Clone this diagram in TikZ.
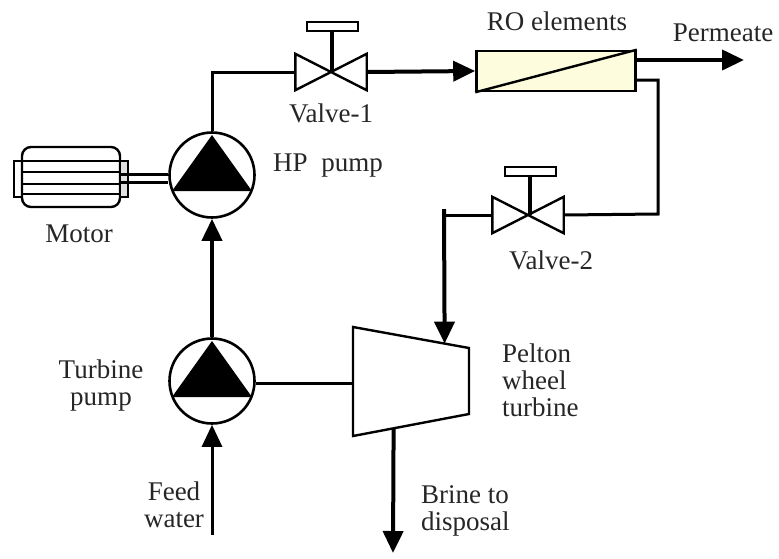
\documentclass[tikz,border=0pt]{standalone}
\usepackage{fontspec}
\setmainfont{Liberation Serif}
\usetikzlibrary{positioning,arrows.meta,calc}
\definecolor{membrane}{RGB}{253,253,222}

\begin{document}
\begin{tikzpicture}[
  x=1pt, y=-1pt,
  >={Triangle[length=22pt,width=20pt]},
  font=\fontsize{27}{27}\selectfont,
  pump/.style  ={circle, draw=black, line width=2.6pt, minimum size=85pt, inner sep=0pt},
  vlv/.style   ={rectangle, minimum width=71pt, minimum height=36pt, inner sep=0pt},
  wheel/.style ={rectangle, draw=black, line width=2pt, fill=white, minimum width=51pt, minimum height=9pt, inner sep=0pt},
  ro/.style    ={rectangle, draw=black, line width=2.6pt, fill=membrane, minimum width=159pt, minimum height=40pt, inner sep=0pt},
  lbl/.style   ={text=black!85, inner sep=0pt},
  pipe/.style  ={black, line width=3pt},
  fat/.style   ={black, line width=4pt},
  body/.style  ={black, line width=2.4pt}
]
\useasboundingbox (0,0) rectangle (779,558);

% ---- Pumps ------------------------------------------------------------------
\node[pump] (hp) at (212,175) {};
\node[pump] (tp) at (212,381) {};
\fill (212,135) -- (172,191) -- (252,191) -- cycle;
\fill (212,341) -- (172,397) -- (252,397) -- cycle;

% ---- Motor ------------------------------------------------------------------
\node[rectangle, draw=black, line width=2.4pt, rounded corners=9pt, minimum width=98pt, minimum height=60pt, inner sep=0pt] (motor) at (71,177) {};
\draw[body] (14,161) rectangle (22,197);
\draw[body, fill=black!12] (120,161) rectangle (128,197);
\draw[body] (22,161) -- (120,161);
\draw[body, line width=1.8pt] (22,172) -- (120,172);
\draw[body, line width=1.8pt] (22,184) -- (120,184);
\draw[body] (22,194) -- (120,194);
\coordinate (sh1) at (motor.east |- 0,174);
\coordinate (sh2) at (motor.east |- 0,182);
\draw[pipe] (sh1) -- (sh1 -| hp.west);
\draw[pipe] (sh2) -- (sh2 -| hp.west);

% ---- Valves -----------------------------------------------------------------
\node[vlv] (v1) at (331,72) {};
\node[vlv] (v2) at (528,215) {};
\foreach \v in {v1,v2} {
  \draw[body] (\v.center) -- (\v.north west) -- (\v.south west) -- cycle;
  \draw[body] (\v.center) -- (\v.north east) -- (\v.south east) -- cycle;
}
\node[wheel] (h1) at (332,26) {};
\node[wheel] (h2) at (530,171) {};
\draw[fat] (h1.south) -- (h1.south |- v1.center);
\draw[fat] (h2.south) -- (h2.south |- v2.center);

% ---- RO module --------------------------------------------------------------
\node[ro] (mem) at (556,71) {};
\draw[body] (mem.south west) -- (mem.north east);

% ---- Turbine ----------------------------------------------------------------
\coordinate (t1) at (353,327);
\coordinate (t2) at (469,348);
\coordinate (t3) at (469,414);
\coordinate (t4) at (353,436);
\draw[body] (t1) -- (t2) -- (t3) -- (t4) -- cycle;
\coordinate (feed) at (212,535);
\coordinate (drain) at (393,553);
\coordinate (perm) at (744,60);
\coordinate (tee) at (444,209);

% ---- Pipes ------------------------------------------------------------------
\draw[->, pipe] (feed) -- (tp.south);
\draw[->, fat] (tp.north) -- (hp.south);
\draw[pipe] (hp.north) |- (v1.west);
\draw[->, fat] (v1.east) -- (mem.west);
\draw[->, fat] (mem.north east |- perm) -- (perm);
\draw[pipe] (mem.east |- 0,80) -| (658,214) -- (v2.east);
\draw[pipe] (v2.west) -- (tee |- v2.west);
\draw[->, fat] (tee) -- ($(t1)!0.79!(t2)$);
\draw[pipe] (tp.east |- 0,383) -- (t1 |- 0,383);
\draw[->, fat] ($(t4)!0.35!(t3)$) -- (drain);

% ---- Labels -----------------------------------------------------------------
\node[lbl] (lv1) at (331,113) {Valve-1};
\node[lbl] (lv2) at (551,260) {Valve-2};
\node[lbl] (lro) at (557,21) {RO\ elements};
\node[lbl] (lpm) at (723,33) {Permeate};
\node[lbl] (lhp) at (328,166) {HP\ \ pump};
\node[lbl] (lmo) at (79,234) {Motor};
\node[lbl, align=center] (ltp) at (101,385) {Turbine\\pump};
\node[lbl, align=center] (lfw) at (174,505) {Feed\\water};
\node[lbl, align=left, anchor=west] (lbr) at (421,511) {Brine to\\disposal};
\node[lbl, align=left, anchor=west] (lpt) at (502,380) {Pelton\\wheel\\turbine};

\end{tikzpicture}
\end{document}
